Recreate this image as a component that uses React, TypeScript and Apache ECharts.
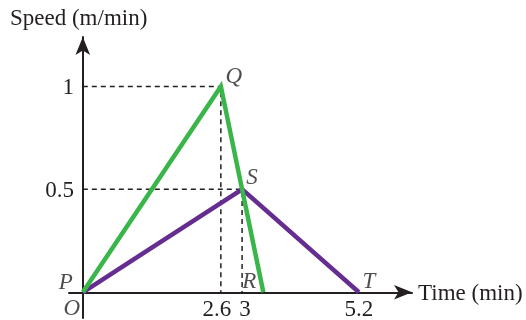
import React, { useEffect, useRef } from "react";
import * as echarts from "echarts";

// Data (time in min, speed in m/min)
const greenTimes = [0, 2.6, 3.4]; // P -> Q -> R
const greenSpeeds = [0, 1, 0];
const purpleTimes = [0, 3, 5.2]; // P -> S -> T
const purpleSpeeds = [0, 0.5, 0];
const xTickValues = [2.6, 3, 5.2];
const yTickValues = [0.5, 1];
const pointNames = ["P", "O", "Q", "S", "R", "T"];

const FONT = "Liberation Serif";
const FS = 23;
const INK = "#231f20";
const GREEN = "#3ab54a";
const PURPLE = "#662d91";

export default function App() {
  const ref = useRef<HTMLDivElement>(null);
  useEffect(() => {
    if (!ref.current) return;
    const chart = echarts.init(ref.current, undefined, { renderer: "svg" });

    const Q: [number, number] = [greenTimes[1], greenSpeeds[1]];
    const S: [number, number] = [purpleTimes[1], purpleSpeeds[1]];
    const R: [number, number] = [greenTimes[2], greenSpeeds[2]];
    const T: [number, number] = [purpleTimes[2], purpleSpeeds[2]];
    const O: [number, number] = [greenTimes[0], greenSpeeds[0]];

    const labelPoints: { [k: string]: { pt: [number, number]; offset: [number, number] } } = {
      P: { pt: O, offset: [-17, -11] },
      O: { pt: O, offset: [-11, 15] },
      Q: { pt: Q, offset: [13, -11] },
      S: { pt: S, offset: [10, -13] },
      R: { pt: R, offset: [-14, -12] },
      T: { pt: T, offset: [10, -12] },
    };

    const dashed = {
      type: "line",
      symbol: "none",
      silent: true,
      lineStyle: { color: INK, width: 1.5, type: [5, 4] },
      z: 1,
    };

    chart.setOption({
      animation: false,
      title: {
        text: "Speed (m/min)",
        left: 10,
        top: 6,
        padding: 0,
        textStyle: { fontFamily: FONT, fontSize: FS, fontWeight: "normal", color: INK },
      },
      grid: {
        left: 69,
        top: 37,
        right: 114,
        bottom: 2,
        containLabel: false,
        outerBoundsMode: "none",
      },
      xAxis: {
        type: "value",
        min: -0.26,
        max: 6.2,
        axisLine: {
          onZero: true,
          symbol: ["none", "arrow"],
          symbolSize: [11, 18],
          lineStyle: { color: INK, width: 2 },
        },
        axisTick: { show: false },
        splitLine: { show: false },
        axisLabel: {
          customValues: xTickValues,
          formatter: (v: number) =>
            v === xTickValues[0] ? "{l|" + v + "}" : v === xTickValues[1] ? "{r|" + v + "}" : String(v),
          rich: {
            l: { fontFamily: FONT, fontSize: FS, color: INK, padding: [0, 8, 0, 0] },
            r: { fontFamily: FONT, fontSize: FS, color: INK, padding: [0, 0, 0, 6] },
          },
          fontFamily: FONT,
          fontSize: FS,
          color: INK,
          margin: -21,
        },
        name: "Time (min)",
        nameLocation: "end",
        nameGap: 6,
        nameTextStyle: { fontFamily: FONT, fontSize: FS, color: INK },
      },
      yAxis: {
        type: "value",
        min: -0.125,
        max: 1.24,
        axisLine: {
          onZero: true,
          symbol: ["none", "arrow"],
          symbolSize: [11, 18],
          lineStyle: { color: INK, width: 2 },
        },
        axisTick: { show: false },
        splitLine: { show: false },
        axisLabel: {
          customValues: yTickValues,
          formatter: (v: number) => String(v),
          fontFamily: FONT,
          fontSize: FS,
          color: INK,
          margin: -5,
        },
      },
      series: [
        { ...dashed, data: [[0, Q[1]], Q, [Q[0], 0]] },
        { ...dashed, data: [[0, S[1]], S, [S[0], 0]] },
        {
          type: "line",
          symbol: "none",
          data: purpleTimes.map((t, i) => [t, purpleSpeeds[i]]),
          lineStyle: { color: PURPLE, width: 4.5, join: "miter", cap: "butt" },
          z: 3,
        },
        {
          type: "line",
          symbol: "none",
          data: greenTimes.map((t, i) => [t, greenSpeeds[i]]),
          lineStyle: { color: GREEN, width: 4.5, join: "miter", cap: "butt" },
          z: 4,
        },
        {
          type: "scatter",
          symbolSize: 0,
          silent: true,
          z: 5,
          data: pointNames.map((n) => ({
            name: n,
            value: labelPoints[n].pt,
            label: { offset: labelPoints[n].offset },
          })),
          label: {
            show: true,
            position: "inside",
            formatter: "{b}",
            fontFamily: FONT,
            fontStyle: "italic",
            fontSize: FS,
            color: INK,
          },
        },
      ],
    });
    return () => chart.dispose();
  }, []);
  return (
    <div
      ref={ref}
      style={{ position: "fixed", left: 0, top: 0, width: 526, height: 320 }}
    />
  );
}
